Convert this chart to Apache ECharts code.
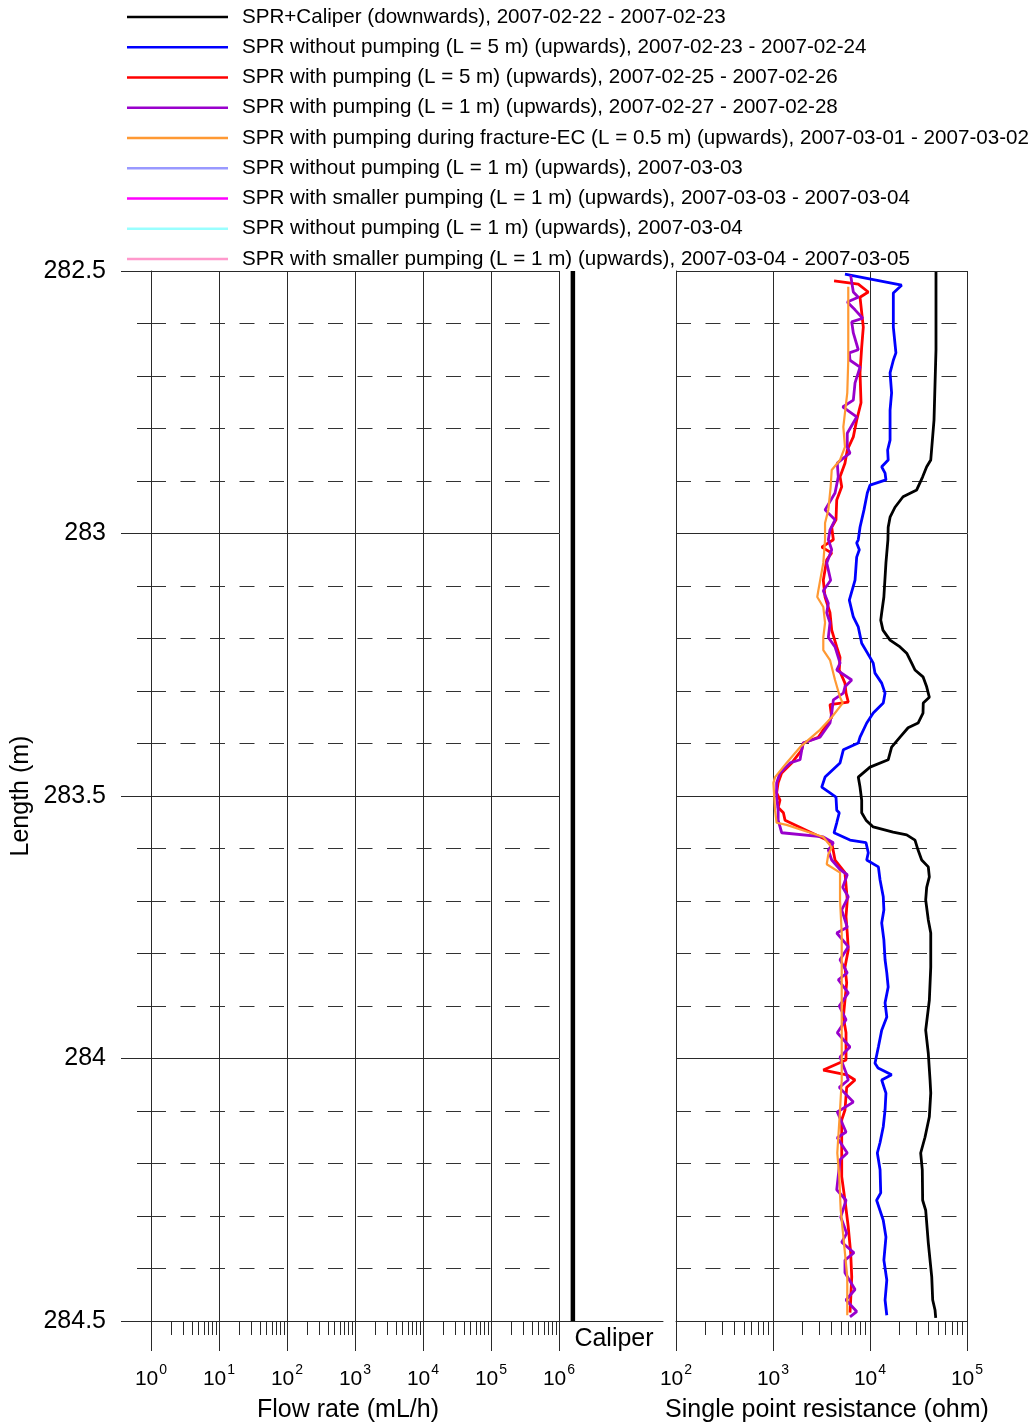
<!DOCTYPE html>
<html>
<head>
<meta charset="utf-8">
<script src="https://cdn.jsdelivr.net/npm/echarts@6/dist/echarts.min.js"></script>
<style>
  html, body { margin: 0; padding: 0; background: #fff; }
  #chart { width: 1031px; height: 1425px; }
</style>
</head>
<body>
<div id="chart"></div>
<script>
// Borehole logging section, length 282.5 - 284.5 m.
// Each profile is a list of [length (m), single point resistance (ohm)].

const seriesNames = [
  'SPR+Caliper (downwards), 2007-02-22 - 2007-02-23',
  'SPR without pumping (L = 5 m) (upwards), 2007-02-23 - 2007-02-24',
  'SPR with pumping (L = 5 m) (upwards), 2007-02-25 - 2007-02-26',
  'SPR with pumping (L = 1 m) (upwards), 2007-02-27 - 2007-02-28',
  'SPR with pumping during fracture-EC (L = 0.5 m) (upwards), 2007-03-01 - 2007-03-02',
  'SPR without pumping (L = 1 m) (upwards), 2007-03-03',
  'SPR with smaller pumping (L = 1 m) (upwards), 2007-03-03 - 2007-03-04',
  'SPR without pumping (L = 1 m) (upwards), 2007-03-04',
  'SPR with smaller pumping (L = 1 m) (upwards), 2007-03-04 - 2007-03-05'
];
const seriesColors = ['#000000', '#0000ff', '#ff0000', '#9900cc', '#ff9933',
                      '#9999ff', '#ff00ff', '#99ffff', '#ff99cc'];

const sprCaliperDown = [
  [282.502, 47900], [282.65, 47900], [282.784, 45700], [282.86, 42300], [282.873, 38400],
  [282.892, 34900], [282.917, 30300], [282.93, 21900], [282.95, 18100], [282.969, 16100],
  [282.988, 15400], [283.012, 15300], [283.056, 14600], [283.121, 13900], [283.151, 13200],
  [283.165, 12900], [283.184, 13600], [283.203, 16100], [283.216, 20400], [283.228, 23900],
  [283.247, 26900], [283.26, 29100], [283.273, 35200], [283.292, 38400], [283.312, 40900],
  [283.323, 35400], [283.342, 35200], [283.361, 31300], [283.37, 24700], [283.388, 20400],
  [283.407, 16700], [283.431, 15400], [283.445, 10000], [283.464, 7570], [283.483, 7890],
  [283.508, 8210], [283.532, 8210], [283.546, 9100], [283.559, 10800], [283.569, 17300],
  [283.574, 23900], [283.584, 29100], [283.603, 31300], [283.622, 34100], [283.635, 39900],
  [283.654, 40900], [283.674, 38400], [283.698, 37500], [283.736, 39900], [283.761, 42300],
  [283.826, 42300], [283.889, 40900], [283.946, 37500], [283.99, 39900], [284.041, 41600],
  [284.066, 42300], [284.111, 40900], [284.15, 36900], [284.18, 33300], [284.212, 34600],
  [284.27, 34900], [284.289, 37500], [284.351, 39900], [284.416, 43300], [284.46, 44300],
  [284.479, 46800], [284.494, 47600]
];

const caliperDown = [
  [282.5, 76], [283.0, 76], [283.5, 76], [284.0, 76], [284.5, 76]
];

const sprNoPump5m = [
  [282.506, 5520], [282.527, 21200], [282.542, 17400], [282.574, 17400], [282.607, 17400],
  [282.656, 18500], [282.67, 17400], [282.694, 16100], [282.732, 16700], [282.765, 16100],
  [282.797, 16100], [282.822, 16100], [282.841, 15200], [282.86, 15400], [282.873, 13200],
  [282.885, 14300], [282.898, 14600], [282.908, 10000], [282.923, 9380], [282.955, 8670],
  [282.988, 7890], [283.012, 7570], [283.018, 7290], [283.031, 7760], [283.045, 7290],
  [283.089, 7010], [283.127, 6120], [283.159, 6730], [283.178, 7570], [283.209, 8210],
  [283.236, 10000], [283.247, 10800], [283.266, 11260], [283.285, 13200], [283.304, 14300],
  [283.323, 13700], [283.342, 10800], [283.361, 9250], [283.388, 7890], [283.399, 7570],
  [283.412, 5310], [283.437, 4910], [283.464, 3440], [283.483, 3180], [283.494, 3870],
  [283.502, 4460], [283.527, 4540], [283.532, 4820], [283.551, 4540], [283.57, 4260],
  [283.584, 6220], [283.589, 9100], [283.608, 9600], [283.622, 9250], [283.635, 12200],
  [283.66, 12700], [283.692, 13700], [283.717, 13900], [283.742, 13200], [283.774, 13900],
  [283.812, 14300], [283.837, 14900], [283.864, 15400], [283.894, 14300], [283.921, 14900],
  [283.946, 13200], [283.978, 12200], [284.009, 11260], [284.018, 12100], [284.031, 16700],
  [284.041, 13200], [284.066, 14600], [284.098, 14300], [284.13, 13700], [284.16, 12700],
  [284.18, 11900], [284.212, 12700], [284.256, 12900], [284.27, 11700], [284.308, 13700],
  [284.34, 14600], [284.384, 13900], [284.422, 14900], [284.46, 14300], [284.489, 14900]
];

const sprPump5m = [
  [282.519, 4260], [282.525, 7570], [282.54, 9600], [282.55, 7890], [282.607, 8530],
  [282.645, 8210], [282.694, 7890], [282.751, 8080], [282.784, 7290], [282.816, 6730],
  [282.841, 5830], [282.866, 5520], [282.892, 4910], [282.911, 5110], [282.936, 4540],
  [282.974, 4460], [282.988, 4030], [283.012, 4190], [283.026, 3180], [283.037, 4030],
  [283.05, 3580], [283.089, 3300], [283.121, 3440], [283.151, 3870], [283.184, 4030],
  [283.216, 4540], [283.236, 4910], [283.26, 4820], [283.285, 5520], [283.304, 5660],
  [283.321, 5970], [283.326, 3870], [283.35, 4030], [283.369, 3440], [283.388, 2930],
  [283.399, 2050], [283.412, 1980], [283.437, 1560], [283.456, 1230], [283.475, 1130],
  [283.494, 1090], [283.508, 1180], [283.522, 1130], [283.532, 1280], [283.546, 1330],
  [283.584, 3580], [283.589, 4030], [283.622, 4360], [283.646, 5520], [283.698, 5830],
  [283.73, 5660], [283.761, 5830], [283.793, 5970], [283.826, 5520], [283.856, 5750],
  [283.889, 5520], [283.921, 5310], [283.951, 5660], [284.003, 5660], [284.022, 3300],
  [284.031, 5750], [284.041, 7010], [284.055, 5750], [284.098, 5520], [284.117, 5110],
  [284.16, 5110], [284.225, 5110], [284.27, 5520], [284.321, 5970], [284.37, 6320],
  [284.416, 6480], [284.46, 6320], [284.484, 6220]
];

const sprPump1m = [
  [282.508, 6320], [282.54, 6730], [282.55, 7570], [282.559, 5830], [282.574, 7010],
  [282.59, 8410], [282.597, 6480], [282.618, 6730], [282.65, 7570], [282.656, 6120],
  [282.67, 6220], [282.683, 7890], [282.713, 7010], [282.746, 6730], [282.759, 5230],
  [282.778, 7290], [282.809, 5830], [282.835, 5830], [282.847, 6220], [282.854, 5520],
  [282.866, 4600], [282.892, 4710], [282.923, 4360], [282.955, 3440], [282.974, 4360],
  [282.993, 3870], [283.012, 3720], [283.031, 4030], [283.056, 3580], [283.089, 3930],
  [283.109, 3300], [283.133, 3720], [283.151, 3580], [283.17, 3870], [283.198, 3720],
  [283.216, 4360], [283.236, 4710], [283.247, 4910], [283.26, 4540], [283.279, 6480],
  [283.292, 5520], [283.304, 5310], [283.317, 4190], [283.342, 4030], [283.361, 3870],
  [283.388, 3050], [283.399, 2050], [283.412, 1980], [283.431, 1900], [283.437, 1500],
  [283.456, 1180], [283.475, 1090], [283.502, 1090], [283.527, 1130], [283.546, 1130],
  [283.57, 1230], [283.578, 3300], [283.589, 4190], [283.603, 3720], [283.622, 4030],
  [283.64, 4910], [283.65, 5830], [283.674, 5230], [283.692, 5970], [283.717, 5110],
  [283.75, 5830], [283.761, 4540], [283.787, 5970], [283.812, 4910], [283.837, 5830],
  [283.85, 4710], [283.875, 5970], [283.9, 4820], [283.926, 5660], [283.951, 4600],
  [283.978, 6220], [283.997, 4910], [284.027, 5660], [284.041, 5970], [284.055, 4820],
  [284.083, 6730], [284.102, 4600], [284.14, 5660], [284.151, 4600], [284.18, 5830],
  [284.193, 4910], [284.25, 4540], [284.27, 5660], [284.302, 4990], [284.333, 5750],
  [284.35, 5110], [284.37, 6840], [284.384, 5520], [284.408, 5520], [284.44, 7010],
  [284.46, 5660], [284.482, 7290], [284.492, 6220]
];

const sprPumpFractureEC = [
  [282.53, 5970], [282.607, 5970], [282.67, 5970], [282.732, 5830], [282.797, 5310],
  [282.835, 5520], [282.86, 4910], [282.879, 4030], [282.911, 3930], [282.955, 3720],
  [282.98, 3440], [283.012, 3440], [283.056, 3300], [283.109, 2930], [283.121, 2860],
  [283.14, 3300], [283.17, 3440], [283.198, 3300], [283.222, 3300], [283.241, 3870],
  [283.279, 4360], [283.312, 4910], [283.323, 5230], [283.35, 4030], [283.374, 3050],
  [283.407, 1900], [283.437, 1380], [283.464, 1050], [283.475, 1010], [283.527, 1050],
  [283.551, 1090], [283.555, 1380], [283.578, 3300], [283.598, 4030], [283.611, 3720],
  [283.63, 3580], [283.646, 4910], [283.698, 4910], [283.761, 5110], [283.889, 5110],
  [284.041, 5110], [284.098, 4910], [284.18, 4600], [284.225, 4820], [284.289, 4990],
  [284.351, 5390], [284.416, 5830], [284.489, 5830]
];

// Flow rate panel carries no measured profile in this section.
const flowRate = [];

const lengthTicks = { min: 282.5, max: 284.5, interval: 0.5 };
const flowDecades = { min: 1, max: 1e6 };
const sprDecades = { min: 100, max: 1e5 };

// Intermediate log ticks (2..9 within each decade)
function logMinorTicks(min, max) {
  const out = [];
  for (let d = min; d < max; d *= 10) {
    for (let m = 2; m <= 9; m++) out.push(d * m);
  }
  return out;
}

const FONT = "'Liberation Sans', Arial, Helvetica, sans-serif";
const GRID_LINE = '#2a2a2a';

function toXY(rows) { return rows.map(r => [r[1], r[0]]); }

function decadeLabel(v) {
  return '{n|10}{s|' + Math.round(Math.log10(v)) + '}';
}
const decadeRich = {
  n: { fontSize: 21, fontFamily: FONT, color: '#000', lineHeight: 27, verticalAlign: 'bottom' },
  s: { fontSize: 14, fontFamily: FONT, color: '#000', lineHeight: 27, verticalAlign: 'top', padding: [0, 0, 0, 1] }
};

function majorLogAxis(grid, range, name, shift) {
  return {
    type: 'log', logBase: 10, gridIndex: grid, position: 'bottom',
    min: range.min, max: range.max,
    name: name, nameLocation: 'middle', nameGap: 77,
    nameTextStyle: {
      fontSize: 25, fontFamily: FONT, color: '#000',
      padding: shift < 0 ? [0, -2 * shift, 0, 0] : [0, 0, 0, 2 * shift]
    },
    axisLine: { show: true, onZero: false, lineStyle: { color: GRID_LINE, width: 1 } },
    axisTick: { show: true, inside: false, length: 30, lineStyle: { color: GRID_LINE, width: 1 } },
    axisLabel: { show: true, margin: 42, formatter: decadeLabel, rich: decadeRich },
    splitLine: { show: true, lineStyle: { color: GRID_LINE, width: 1 } },
    minorTick: { show: false }, minorSplitLine: { show: false }
  };
}
function minorLogAxis(grid, range) {
  return {
    type: 'log', logBase: 10, gridIndex: grid, position: 'bottom', offset: 0,
    min: range.min, max: range.max,
    axisLine: { show: false },
    axisTick: { show: true, inside: false, length: 14,
                customValues: logMinorTicks(range.min, range.max),
                lineStyle: { color: GRID_LINE, width: 1 } },
    axisLabel: { show: false },
    splitLine: { show: false }
  };
}
function lengthAxis(grid, withLabels) {
  return {
    type: 'value', gridIndex: grid, inverse: true,
    min: lengthTicks.min, max: lengthTicks.max, interval: lengthTicks.interval,
    name: withLabels ? 'Length (m)' : '',
    nameLocation: 'middle', nameGap: 117,
    nameTextStyle: { fontSize: 25, fontFamily: FONT, color: '#000' },
    axisLine: { show: true, lineStyle: { color: GRID_LINE, width: 1 } },
    axisTick: { show: withLabels, length: 30, lineStyle: { color: GRID_LINE, width: 1 } },
    minorTick: { show: withLabels, splitNumber: 5, length: 14, lineStyle: { color: GRID_LINE, width: 1 } },
    axisLabel: { show: withLabels, margin: 45, fontSize: 25, fontFamily: FONT, color: '#000' },
    splitLine: { show: true, lineStyle: { color: GRID_LINE, width: 1 } },
    minorSplitLine: { show: true, lineStyle: { color: '#333', width: 1, type: [15, 14.5] } }
  };
}

function sprSeries(idx, rows, width) {
  return {
    name: seriesNames[idx], type: 'line', xAxisIndex: 3, yAxisIndex: 2,
    data: toXY(rows), symbol: 'none', showSymbol: false, smooth: false,
    lineStyle: { color: seriesColors[idx], width: width },
    itemStyle: { color: seriesColors[idx] },
    z: 3 + idx, silent: true
  };
}

const chart = echarts.init(document.getElementById('chart'), null, { renderer: 'canvas' });

const panel = { top: 271, height: 1050, containLabel: false, outerBoundsMode: 'none' };

const option = {
  backgroundColor: '#ffffff',
  animation: false,
  textStyle: { fontFamily: FONT },
  legend: {
    data: seriesNames.map((n, i) => ({ name: n, icon: 'rect', itemStyle: { color: seriesColors[i] } })),
    orient: 'vertical', left: 127, top: 6, padding: 0,
    itemWidth: 101, itemHeight: 2.5, itemGap: 8.25,
    selectedMode: false,
    textStyle: { fontSize: 20.6, lineHeight: 22, fontFamily: FONT, color: '#000', padding: [0, 0, 0, 9] }
  },
  grid: [
    Object.assign({ left: 151, width: 408 }, panel),
    Object.assign({ left: 560, width: 103 }, panel),
    Object.assign({ left: 676, width: 291 }, panel)
  ],
  xAxis: [
    majorLogAxis(0, flowDecades, 'Flow rate (mL/h)', -7),
    minorLogAxis(0, flowDecades),
    {
      type: 'value', gridIndex: 1, position: 'bottom', min: 75, max: 83,
      name: 'Caliper', nameLocation: 'middle', nameGap: 6,
      nameTextStyle: { fontSize: 25, fontFamily: FONT, color: '#000', verticalAlign: 'top', padding: [0, 0, 0, 5] },
      axisLine: { show: true, onZero: false, lineStyle: { color: GRID_LINE, width: 1 } },
      axisTick: { show: false }, axisLabel: { show: false }, splitLine: { show: false }
    },
    majorLogAxis(2, sprDecades, 'Single point resistance (ohm)', 5.5),
    minorLogAxis(2, sprDecades)
  ],
  yAxis: [
    lengthAxis(0, true),
    {
      type: 'value', gridIndex: 1, inverse: true, show: false,
      min: lengthTicks.min, max: lengthTicks.max, interval: lengthTicks.interval,
      splitLine: { show: false }
    },
    lengthAxis(2, false)
  ],
  series: [
    {
      name: 'Flow rate', type: 'line', xAxisIndex: 0, yAxisIndex: 0,
      data: flowRate, symbol: 'none', silent: true
    },
    sprSeries(0, sprCaliperDown, 2.8),
    {
      name: seriesNames[0], type: 'line', xAxisIndex: 2, yAxisIndex: 1,
      data: toXY(caliperDown), symbol: 'none', showSymbol: false,
      lineStyle: { color: '#000', width: 4.5 }, itemStyle: { color: '#000' }, silent: true
    },
    sprSeries(1, sprNoPump5m, 2.8),
    sprSeries(2, sprPump5m, 2.8),
    sprSeries(3, sprPump1m, 2.8),
    sprSeries(4, sprPumpFractureEC, 2.2),
    sprSeries(5, [], 2),
    sprSeries(6, [], 2),
    sprSeries(7, [], 2),
    sprSeries(8, [], 2)
  ]
};

chart.setOption(option);
</script>
</body>
</html>
